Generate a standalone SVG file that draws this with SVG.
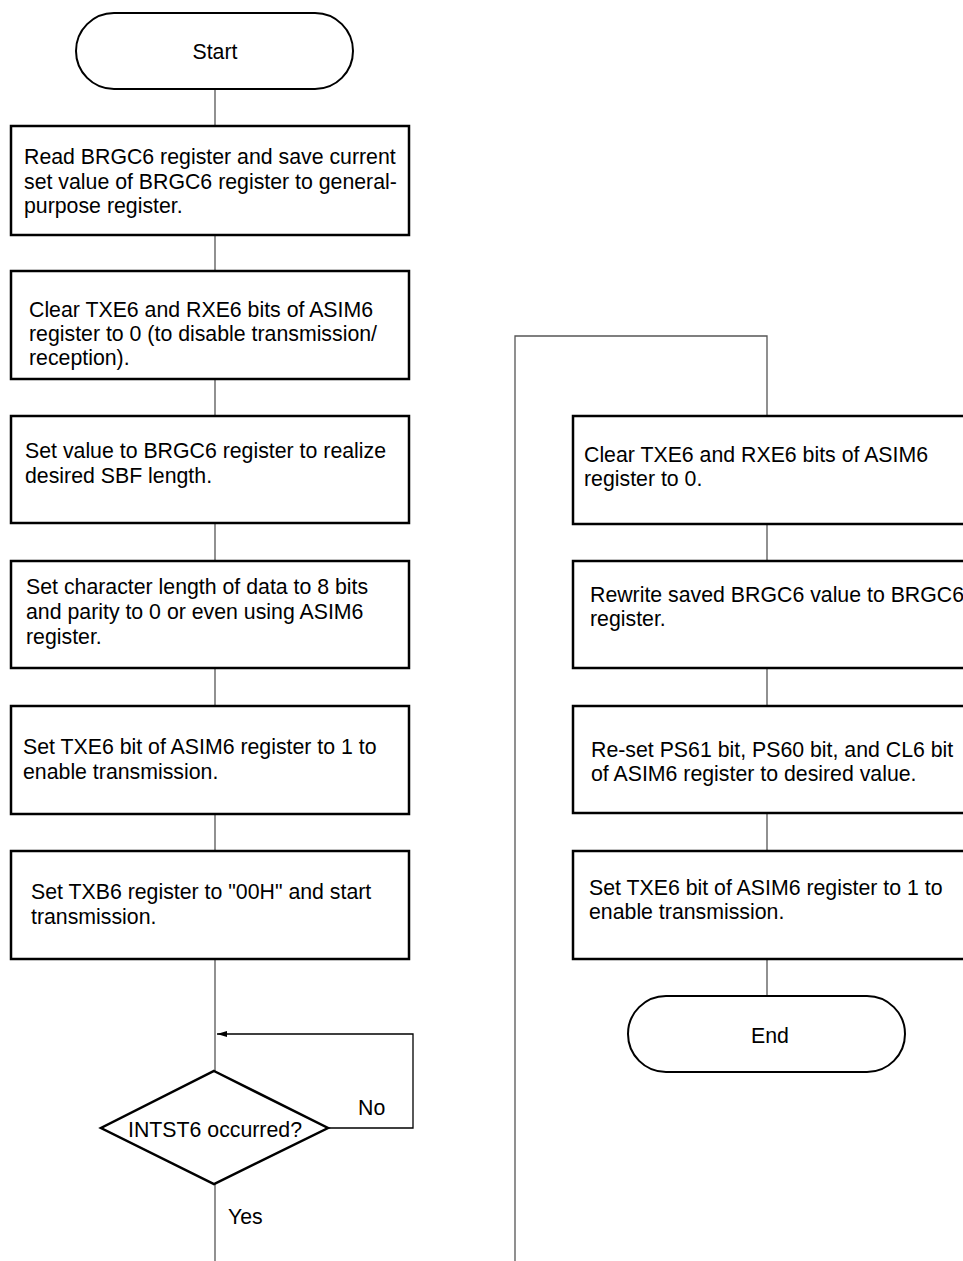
<svg xmlns="http://www.w3.org/2000/svg" width="963" height="1261" viewBox="0 0 963 1261">
<style>
.box{fill:#fff;stroke:#000;stroke-width:2.5}
.term{fill:#fff;stroke:#000;stroke-width:2}
.t{font-family:"Liberation Sans",Arial,sans-serif;font-size:21.3px;fill:#000}
.c{text-anchor:middle}
.ln{fill:none;stroke:#555;stroke-width:1.3}
.lk{fill:none;stroke:#000;stroke-width:1.3}
</style>
<defs>
<marker id="ah" markerWidth="10" markerHeight="6" refX="10" refY="3" orient="auto" markerUnits="userSpaceOnUse">
<path d="M0,0 L10,3 L0,6 Z" fill="#000"/>
</marker>
</defs>
<rect width="963" height="1261" fill="#fff"/>
<g id="connectors">
<line class="ln" x1="215" y1="89" x2="215" y2="126"/>
<line class="ln" x1="215" y1="235" x2="215" y2="271"/>
<line class="ln" x1="215" y1="379" x2="215" y2="416"/>
<line class="ln" x1="215" y1="523" x2="215" y2="561"/>
<line class="ln" x1="215" y1="668" x2="215" y2="706"/>
<line class="ln" x1="215" y1="814" x2="215" y2="851"/>
<line class="ln" x1="215" y1="959" x2="215" y2="1071"/>
<line class="ln" x1="215" y1="1184" x2="215" y2="1261"/>
<polyline class="lk" points="328,1128 413,1128 413,1034 217,1034" marker-end="url(#ah)"/>
<polyline class="ln" points="515,1261 515,336 767,336 767,416"/>
<line class="ln" x1="767" y1="523" x2="767" y2="561"/>
<line class="ln" x1="767" y1="668" x2="767" y2="706"/>
<line class="ln" x1="767" y1="813" x2="767" y2="851"/>
<line class="ln" x1="767" y1="959" x2="767" y2="996"/>
</g>
<g id="start">
<rect class="term" x="76" y="13" width="277" height="76" rx="38" ry="38"/>
<text class="t c" x="215" y="59">Start</text>
</g>
<g id="read-brgc6">
<rect class="box" x="11" y="126" width="398" height="109"/>
<text class="t" x="24" y="164">Read BRGC6 register and save current</text>
<text class="t" x="24" y="189">set value of BRGC6 register to general-</text>
<text class="t" x="24" y="213">purpose register.</text>
</g>
<g id="clear-bits-1">
<rect class="box" x="11" y="271" width="398" height="108"/>
<text class="t" x="29" y="317">Clear TXE6 and RXE6 bits of ASIM6</text>
<text class="t" x="29" y="341">register to 0 (to disable transmission/</text>
<text class="t" x="29" y="365">reception).</text>
</g>
<g id="set-brgc6">
<rect class="box" x="11" y="416" width="398" height="107"/>
<text class="t" x="25" y="458">Set value to BRGC6 register to realize</text>
<text class="t" x="25" y="483">desired SBF length.</text>
</g>
<g id="set-char-length">
<rect class="box" x="11" y="561" width="398" height="107"/>
<text class="t" x="26" y="594">Set character length of data to 8 bits</text>
<text class="t" x="26" y="619">and parity to 0 or even using ASIM6</text>
<text class="t" x="26" y="644">register.</text>
</g>
<g id="set-txe6-1">
<rect class="box" x="11" y="706" width="398" height="108"/>
<text class="t" x="23" y="754">Set TXE6 bit of ASIM6 register to 1 to</text>
<text class="t" x="23" y="779">enable transmission.</text>
</g>
<g id="set-txb6">
<rect class="box" x="11" y="851" width="398" height="108"/>
<text class="t" x="31" y="899">Set TXB6 register to "00H" and start</text>
<text class="t" x="31" y="924">transmission.</text>
</g>
<g id="decision">
<polygon class="box" points="214,1071 328,1128 214,1184 101,1128"/>
<text class="t c" x="215" y="1137">INTST6 occurred?</text>
<text class="t" x="358" y="1115">No</text>
<text class="t" x="228" y="1224">Yes</text>
</g>
<g id="clear-bits-2">
<rect class="box" x="573" y="416" width="400" height="108"/>
<text class="t" x="584" y="462">Clear TXE6 and RXE6 bits of ASIM6</text>
<text class="t" x="584" y="486">register to 0.</text>
</g>
<g id="rewrite-brgc6">
<rect class="box" x="573" y="561" width="400" height="107"/>
<text class="t" x="590" y="602">Rewrite saved BRGC6 value to BRGC6</text>
<text class="t" x="590" y="626">register.</text>
</g>
<g id="reset-ps">
<rect class="box" x="573" y="706" width="400" height="107"/>
<text class="t" x="591" y="757">Re-set PS61 bit, PS60 bit, and CL6 bit</text>
<text class="t" x="591" y="781">of ASIM6 register to desired value.</text>
</g>
<g id="set-txe6-2">
<rect class="box" x="573" y="851" width="400" height="108"/>
<text class="t" x="589" y="895">Set TXE6 bit of ASIM6 register to 1 to</text>
<text class="t" x="589" y="919">enable transmission.</text>
</g>
<g id="end">
<rect class="term" x="628" y="996" width="277" height="76" rx="38" ry="38"/>
<text class="t c" x="770" y="1043">End</text>
</g>
</svg>
